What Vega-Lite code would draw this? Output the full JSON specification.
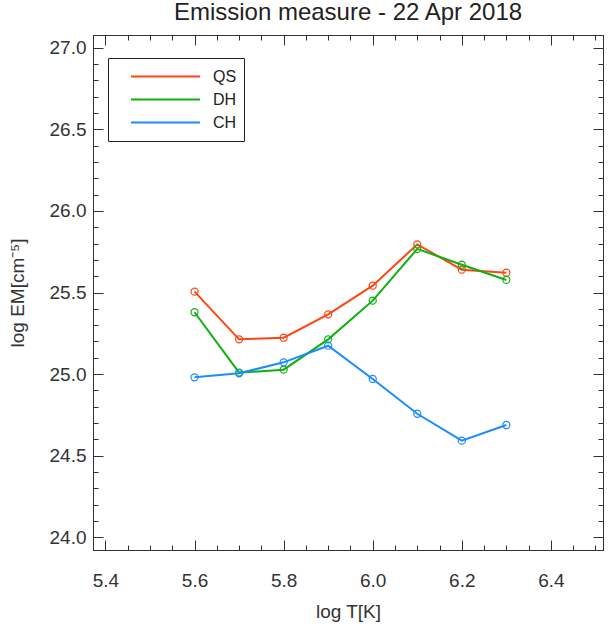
{
  "$schema": "https://vega.github.io/schema/vega-lite/v6.json",
  "width": 510,
  "height": 515,
  "autosize": {"type": "none"},
  "padding": {"left": 93, "top": 35, "right": 5, "bottom": 76},
  "background": "white",
  "title": {"text": "Emission measure - 22 Apr 2018", "fontSize": 24, "font": "Liberation Sans", "fontWeight": "normal", "color": "#222", "anchor": "middle", "baseline": "alphabetic", "offset": -9},
  "config": {"view": {"stroke": "#333", "strokeWidth": 1}, "font": "Liberation Sans"},
  "data": {"values": [
    {"logT": 5.6, "logEM": 25.505, "region": "QS"},
    {"logT": 5.7, "logEM": 25.213, "region": "QS"},
    {"logT": 5.8, "logEM": 25.223, "region": "QS"},
    {"logT": 5.9, "logEM": 25.366, "region": "QS"},
    {"logT": 6.0, "logEM": 25.542, "region": "QS"},
    {"logT": 6.1, "logEM": 25.795, "region": "QS"},
    {"logT": 6.2, "logEM": 25.640, "region": "QS"},
    {"logT": 6.3, "logEM": 25.621, "region": "QS"},
    {"logT": 5.6, "logEM": 25.379, "region": "DH"},
    {"logT": 5.7, "logEM": 25.009, "region": "DH"},
    {"logT": 5.8, "logEM": 25.027, "region": "DH"},
    {"logT": 5.9, "logEM": 25.213, "region": "DH"},
    {"logT": 6.0, "logEM": 25.450, "region": "DH"},
    {"logT": 6.1, "logEM": 25.767, "region": "DH"},
    {"logT": 6.2, "logEM": 25.670, "region": "DH"},
    {"logT": 6.3, "logEM": 25.577, "region": "DH"},
    {"logT": 5.6, "logEM": 24.980, "region": "CH"},
    {"logT": 5.7, "logEM": 25.005, "region": "CH"},
    {"logT": 5.8, "logEM": 25.072, "region": "CH"},
    {"logT": 5.9, "logEM": 25.174, "region": "CH"},
    {"logT": 6.0, "logEM": 24.970, "region": "CH"},
    {"logT": 6.1, "logEM": 24.757, "region": "CH"},
    {"logT": 6.2, "logEM": 24.592, "region": "CH"},
    {"logT": 6.3, "logEM": 24.688, "region": "CH"}
  ]},
  "layer": [
    {
      "mark": {"type": "line", "strokeWidth": 2},
      "encoding": {
        "x": {"field": "logT", "type": "quantitative",
          "scale": {"domain": [5.372, 6.517], "nice": false, "zero": false},
          "axis": {"orient": "bottom", "values": [5.4, 5.6, 5.8, 6.0, 6.2, 6.4], "format": ".1f", "tickSize": -10, "labelPadding": 31, "grid": false, "domainColor": "#333", "tickColor": "#333", "labelFontSize": 19, "labelColor": "#333", "labelFont": "Liberation Sans", "title": "log T[K]", "titleFontSize": 19, "titleFontWeight": "normal", "titleColor": "#333", "titleFont": "Liberation Sans", "titlePadding": 12}},
        "y": {"field": "logEM", "type": "quantitative",
          "scale": {"domain": [23.922, 27.078], "nice": false, "zero": false},
          "axis": {"orient": "left", "values": [24.0, 24.5, 25.0, 25.5, 26.0, 26.5, 27.0], "format": ".1f", "tickSize": -10, "labelPadding": 17, "grid": false, "domainColor": "#333", "tickColor": "#333", "labelFontSize": 19, "labelColor": "#333", "labelFont": "Liberation Sans", "title": "log EM[cm⁻⁵]", "titleFontSize": 19, "titleFontWeight": "normal", "titleColor": "#333", "titleFont": "Liberation Sans", "titlePadding": 22}},
        "color": {"field": "region", "type": "nominal",
          "scale": {"domain": ["QS", "DH", "CH"], "range": ["#ff4511", "#10b010", "#1a8cff"]},
          "legend": {"title": null, "orient": "none", "legendX": 15, "legendY": 23, "symbolType": "stroke", "symbolSize": 4761, "symbolStrokeWidth": 2, "clipHeight": 23, "labelFontSize": 16, "labelFont": "Liberation Sans", "labelColor": "#222", "padding": 7, "strokeColor": "#222", "fillColor": "white", "symbolOffset": 15, "labelOffset": 12, "rowPadding": 0}}
      }
    },
    {
      "mark": {"type": "point", "filled": false, "size": 50, "strokeWidth": 1.2, "opacity": 1},
      "encoding": {
        "x": {"field": "logT", "type": "quantitative",
          "axis": {"orient": "bottom", "values": [5.4, 5.45, 5.5, 5.55, 5.6, 5.65, 5.7, 5.75, 5.8, 5.85, 5.9, 5.95, 6.0, 6.05, 6.1, 6.15, 6.2, 6.25, 6.3, 6.35, 6.4, 6.45, 6.5], "tickSize": -5, "labels": false, "title": null, "grid": false, "domainColor": "#333", "tickColor": "#333"}},
        "y": {"field": "logEM", "type": "quantitative",
          "axis": {"orient": "left", "values": [24.0, 24.1, 24.2, 24.3, 24.4, 24.5, 24.6, 24.7, 24.8, 24.9, 25.0, 25.1, 25.2, 25.3, 25.4, 25.5, 25.6, 25.7, 25.8, 25.9, 26.0, 26.1, 26.2, 26.3, 26.4, 26.5, 26.6, 26.7, 26.8, 26.9, 27.0], "tickSize": -5, "labels": false, "title": null, "grid": false, "domainColor": "#333", "tickColor": "#333"}},
        "color": {"field": "region", "type": "nominal", "legend": null}
      }
    },
    {
      "mark": {"type": "point", "opacity": 0},
      "encoding": {
        "x": {"field": "logT", "type": "quantitative",
          "axis": {"orient": "top", "values": [5.4, 5.6, 5.8, 6.0, 6.2, 6.4], "tickSize": -10, "labels": false, "title": null, "grid": false, "domainColor": "#333", "tickColor": "#333"}},
        "y": {"field": "logEM", "type": "quantitative",
          "axis": {"orient": "right", "values": [24.0, 24.5, 25.0, 25.5, 26.0, 26.5, 27.0], "tickSize": -10, "labels": false, "title": null, "grid": false, "domainColor": "#333", "tickColor": "#333"}}
      }
    },
    {
      "mark": {"type": "point", "opacity": 0},
      "encoding": {
        "x": {"field": "logT", "type": "quantitative",
          "axis": {"orient": "top", "values": [5.4, 5.45, 5.5, 5.55, 5.6, 5.65, 5.7, 5.75, 5.8, 5.85, 5.9, 5.95, 6.0, 6.05, 6.1, 6.15, 6.2, 6.25, 6.3, 6.35, 6.4, 6.45, 6.5], "tickSize": -5, "labels": false, "title": null, "grid": false, "domainColor": "#333", "tickColor": "#333"}},
        "y": {"field": "logEM", "type": "quantitative",
          "axis": {"orient": "right", "values": [24.0, 24.1, 24.2, 24.3, 24.4, 24.5, 24.6, 24.7, 24.8, 24.9, 25.0, 25.1, 25.2, 25.3, 25.4, 25.5, 25.6, 25.7, 25.8, 25.9, 26.0, 26.1, 26.2, 26.3, 26.4, 26.5, 26.6, 26.7, 26.8, 26.9, 27.0], "tickSize": -5, "labels": false, "title": null, "grid": false, "domainColor": "#333", "tickColor": "#333"}}
      }
    }
  ],
  "resolve": {"axis": {"x": "independent", "y": "independent"}}
}
